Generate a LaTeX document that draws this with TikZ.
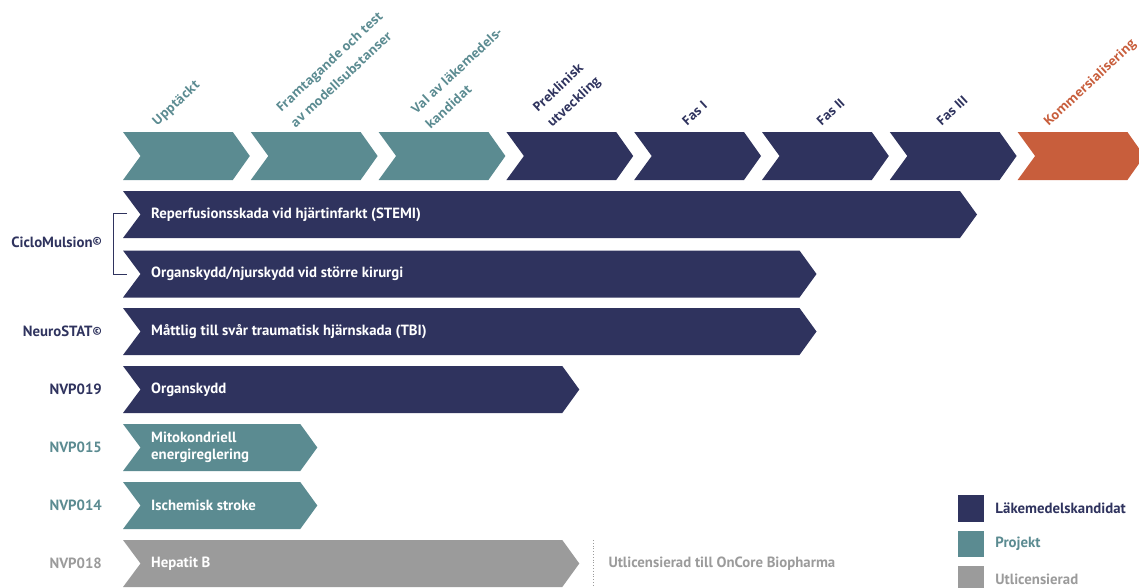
\documentclass[tikz,border=0pt]{standalone}
\usepackage{fontspec}
\setmainfont{PT Sans}
\newfontfamily\stagefont{Open Sans}
\usetikzlibrary{positioning}
\definecolor{navy}{HTML}{2F335E}
\definecolor{projteal}{HTML}{5B8B91}
\definecolor{licgray}{HTML}{9B9B9B}
\definecolor{komorange}{HTML}{C85E3C}
% left edge, tip, top, height, colour
\newcommand\pipebar[5]{\fill[#5] (#1,#3) -- ({#2-17},#3) -- (#2,{#3+#4/2}) -- ({#2-17},{#3+#4}) -- (#1,{#3+#4}) -- ({#1+17.5},{#3+#4/2}) -- cycle;}
\newcommand\regmark{\raisebox{2.5pt}{\fontsize{11}{11}\selectfont ©}}

\begin{document}
\begin{tikzpicture}[x=1pt,y=-1pt,
  stagelbl/.style = {rotate=43, anchor=base west, inner sep=0, align=left, font=\stagefont\bfseries\fontsize{12.8}{21}\selectfont},
  bartext/.style = {anchor=west, inner sep=0, align=left, text=white, font=\bfseries\fontsize{14.8}{17}\selectfont},
  rowlbl/.style = {anchor=east, inner sep=0, font=\bfseries\fontsize{14.8}{17}\selectfont},
  legbox/.style = {minimum size=26.7pt, inner sep=0},
  legtext/.style = {inner sep=0, font=\bfseries\fontsize{14.8}{17}\selectfont}]
\useasboundingbox (0,0) rectangle (1139,587);

% stages
\foreach \c [count=\i from 0] in {projteal,projteal,projteal,navy,navy,navy,navy,komorange}
  \pipebar{123+127.8*\i}{249.8+127.8*\i}{132}{48}{\c};
\node[stagelbl, text=projteal] (upp) at (157,126.7) {Upptäckt};
\node[stagelbl, text=projteal] (fram) at (295.5,128.3) {Framtagande och test\\av modellsubstanser};
\node[stagelbl, text=projteal] (val) at (430.5,130) {Val av läkemedels-\\kandidat};
\node[stagelbl, text=navy] (prek) at (552,128) {Preklinisk\\utveckling};
\node[stagelbl, text=navy] (fas1) at (687,126.7) {Fas I};
\node[stagelbl, text=navy] (fas2) at (821.5,126.7) {Fas II};
\node[stagelbl, text=navy] (fas3) at (941.5,126.7) {Fas III};
\node[stagelbl, text=komorange] (komm) at (1048.5,127) {Kommersialisering};

% projects
\pipebar{123}{977}{191}{47}{navy}
\pipebar{123}{816.5}{250.5}{47}{navy}
\pipebar{123}{816.5}{308}{47}{navy}
\pipebar{123}{579.3}{366}{47}{navy}
\pipebar{123}{317.3}{424}{47}{projteal}
\pipebar{123}{317.3}{482}{47}{projteal}
\pipebar{123}{579.3}{540}{47}{licgray}
\node[bartext] (stemi) at (151,214.5) {Reperfusionsskada vid hjärtinfarkt (STEMI)};
\node[bartext] (kirurgi) at (151,274) {Organskydd/njurskydd vid större kirurgi};
\node[bartext] (tbi) at (151,331.5) {Måttlig till svår traumatisk hjärnskada (TBI)};
\node[bartext] (organ) at (151,389.5) {Organskydd};
\node[bartext] (mito) at (151,447.5) {Mitokondriell\\energireglering};
\node[bartext] (stroke) at (151,505.5) {Ischemisk stroke};
\node[bartext] (hep) at (151,563.5) {Hepatit B};

\node[rowlbl, text=navy] (ciclo) at (102,242) {CicloMulsion\regmark};
\node[rowlbl, text=navy] (neuro) at (102,331.5) {NeuroSTAT\regmark};
\node[rowlbl, text=navy] (nvp19) at (102,389.5) {NVP019};
\node[rowlbl, text=projteal] (nvp15) at (102,447.5) {NVP015};
\node[rowlbl, text=projteal] (nvp14) at (102,505.5) {NVP014};
\node[rowlbl, text=licgray] (nvp18) at (102,563.5) {NVP018};

\coordinate (b1) at (127,213.5);
\coordinate (b2) at (127,274.5);
\draw[navy, line width=1.5pt] (b1) -- ++(-13.5,0) |- (b2);

\coordinate (d1) at (593.3,540);
\coordinate (d2) at (593.3,587);
\draw[licgray, dotted, line width=0.8pt] (d1) -- (d2);
\node[anchor=west, inner sep=0, text=licgray, font=\bfseries\fontsize{14.8}{17}\selectfont] (onc) at (608.3,563.5) {Utlicensierad till OnCore Biopharma};

% legend
\node[legbox, fill=navy] (lk) at (971,508.7) {};
\node[legbox, fill=projteal] (lp) at (971,544) {};
\node[legbox, fill=licgray] (lu) at (971,579.3) {};
\node[legtext, text=navy, right=10.7pt of lk] {Läkemedelskandidat};
\node[legtext, text=projteal, right=10.7pt of lp] {Projekt};
\node[legtext, text=licgray, right=10.7pt of lu] {Utlicensierad};
\end{tikzpicture}
\end{document}
